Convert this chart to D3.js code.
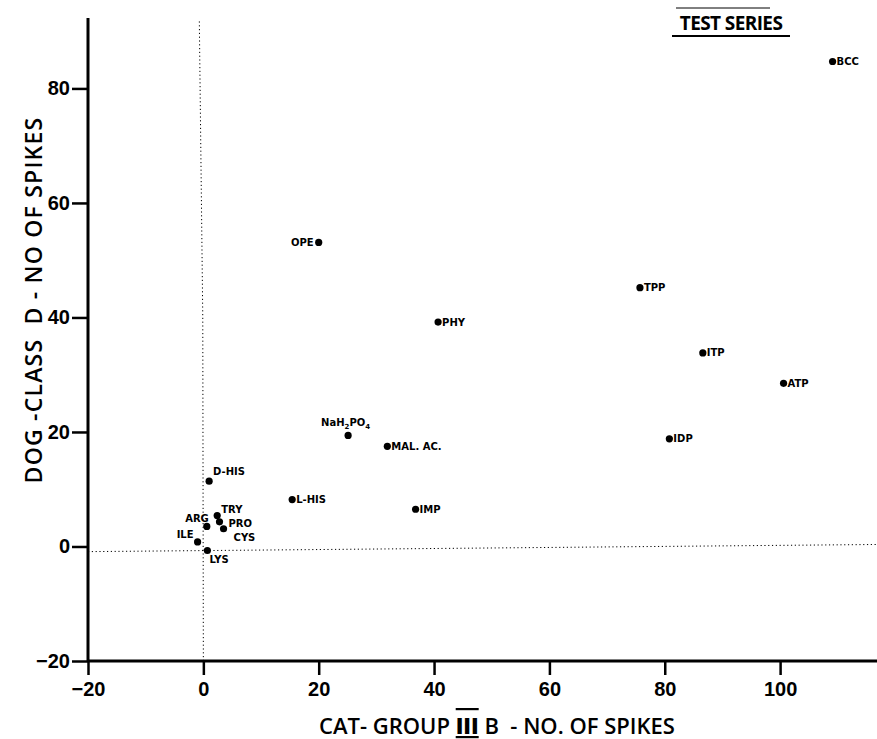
<!DOCTYPE html>
<html>
<head>
<meta charset="utf-8">
<script src="https://cdn.jsdelivr.net/npm/d3@7"></script>
<style>
body { margin: 0; background: #fff; }
svg { display: block; }
.tick text { font-family: "Liberation Sans", Arial, sans-serif; font-weight: bold; font-size: 20px; fill: #000; }
.lbl { font-family: "DejaVu Sans", sans-serif; font-weight: bold; font-size: 10px; fill: #000; }
.ttl { font-family: "Open Sans", sans-serif; font-weight: 600; font-size: 21px; fill: #000; white-space: pre; }
</style>
</head>
<body>
<script>
// substances, x = cat group IIIb spikes, y = dog class D spikes
var names = ["BCC", "OPE", "TPP", "PHY", "ITP", "ATP", "IDP", "NaH2PO4", "MAL. AC.",
             "D-HIS", "L-HIS", "IMP", "TRY", "ARG", "PRO", "CYS", "ILE", "LYS"];
var catSpikes = [109.1, 20.0, 75.7, 40.7, 86.6, 100.6, 80.8, 25.1, 31.9,
                 1.0, 15.4, 36.8, 2.4, 0.6, 2.8, 3.5, -1.0, 0.7];
var dogSpikes = [84.7, 53.1, 45.2, 39.2, 33.8, 28.5, 18.8, 19.4, 17.5,
                 11.4, 8.2, 6.5, 5.4, 3.5, 4.3, 3.1, 0.8, -0.7];
var xTicks = [-20, 0, 20, 40, 60, 80, 100];
var yTicks = [-20, 0, 20, 40, 60, 80];

// label placement (layout only)
var place = {
  "OPE": {dx: -5, dy: 3.5, a: "end"},
  "NaH2PO4": {dx: -27, dy: -9, a: "start"},
  "D-HIS": {dx: 4, dy: -6, a: "start"},
  "TRY": {dx: 4, dy: -3, a: "start"},
  "ARG": {dx: 2, dy: -4, a: "end"},
  "PRO": {dx: 9, dy: 5, a: "start"},
  "CYS": {dx: 10, dy: 12, a: "start"},
  "ILE": {dx: -4, dy: -4, a: "end"},
  "LYS": {dx: 2, dy: 13, a: "start"}
};

var W = 877, H = 739;
var svg = d3.select("body").append("svg").attr("width", W).attr("height", H);

var x = d3.scaleLinear().domain([-20, 116.8]).range([88, 877]);
var y = d3.scaleLinear().domain([-20, 92.3]).range([661, 18]);

// dotted zero guides
svg.append("path")
  .attr("d", d3.line()([[x(0), y(-20)], [x(-0.1), y(40)], [x(-0.7), y(92)]]))
  .attr("fill", "none").attr("stroke", "#000").attr("stroke-width", 1)
  .attr("stroke-dasharray", "1.2,2.6");
svg.append("path")
  .attr("d", d3.line()([[x(-20), y(-0.9)], [x(116.8), y(0.35)]]))
  .attr("fill", "none").attr("stroke", "#000").attr("stroke-width", 1)
  .attr("stroke-dasharray", "1.2,2.6");

var xAxis = svg.append("g").attr("transform", "translate(0," + y(-20) + ")")
  .call(d3.axisBottom(x).tickValues(xTicks).tickSize(14).tickPadding(3).tickFormat(d3.format("d")));
var yAxis = svg.append("g").attr("transform", "translate(" + x(-20) + ",0)")
  .call(d3.axisLeft(y).tickValues(yTicks).tickSize(16).tickPadding(2).tickFormat(d3.format("d")));
[xAxis, yAxis].forEach(function(g) {
  g.select(".domain").attr("stroke", "#000").attr("stroke-width", 3);
  g.selectAll(".tick line").attr("stroke", "#000").attr("stroke-width", 2.5);
});
xAxis.select(".domain").attr("d", "M" + x(-20) + ",0H" + W);
yAxis.select(".domain").attr("d", "M0," + y(92.3) + "V" + y(-20));
xAxis.selectAll(".tick text").attr("dy", "0.9em");

// points
var pts = svg.append("g").selectAll("g").data(names).enter().append("g")
  .attr("transform", function(d, i) { return "translate(" + x(catSpikes[i]) + "," + y(dogSpikes[i]) + ")"; });
pts.append("circle").attr("r", 3.6).attr("fill", "#000");
pts.each(function(d) {
  var p = place[d] || {dx: 4, dy: 3.5, a: "start"};
  var t = d3.select(this).append("text").attr("class", "lbl")
    .attr("x", p.dx).attr("y", p.dy).attr("text-anchor", p.a);
  if (d === "NaH2PO4") {
    t.append("tspan").text("NaH");
    t.append("tspan").attr("dy", 3).style("font-size", "7px").text("2");
    t.append("tspan").attr("dy", -3).text("PO");
    t.append("tspan").attr("dy", 3).style("font-size", "7px").text("4");
  } else {
    t.text(d);
  }
});

// axis titles
var xt = svg.append("text").attr("class", "ttl").attr("x", 497).attr("y", 734)
  .attr("text-anchor", "middle").style("font-size", "22px");
xt.append("tspan").text("CAT- GROUP ");
xt.append("tspan").style("text-decoration", "underline overline").style("font-weight", "800").text("III");
xt.append("tspan").text(" B  - NO. OF SPIKES");

svg.append("text").attr("class", "ttl")
  .attr("transform", "translate(42,300) rotate(-90)")
  .attr("text-anchor", "middle").style("font-size", "23px").style("letter-spacing", "1.2px")
  .text("DOG -CLASS  D - NO OF SPIKES");

// panel title
svg.append("text").attr("class", "ttl").attr("x", 731).attr("y", 30)
  .attr("text-anchor", "middle").style("font-size", "19px").style("font-weight", "700")
  .style("letter-spacing", "-0.6px")
  .text("TEST SERIES");
svg.append("line").attr("x1", 672).attr("x2", 790).attr("y1", 36).attr("y2", 36)
  .attr("stroke", "#000").attr("stroke-width", 2);
svg.append("line").attr("x1", 676).attr("x2", 770).attr("y1", 8).attr("y2", 8)
  .attr("stroke", "#000").attr("stroke-width", 1);
</script>
</body>
</html>
